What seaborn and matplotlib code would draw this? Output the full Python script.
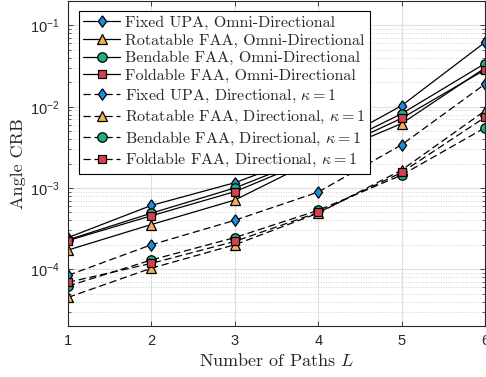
import numpy as np
import pandas as pd
import matplotlib
matplotlib.use("Agg")
import matplotlib.pyplot as plt
from matplotlib.font_manager import FontProperties
import matplotlib.ticker as mticker
import seaborn as sns

# Number of propagation paths
paths = [1, 2, 3, 4, 5, 6]

# Angle CRB, omni-directional antenna elements
fixed_omni = [2.45e-4, 6.1e-4, 1.16e-3, 2.8e-3, 1.03e-2, 6.2e-2]
rotatable_omni = [1.72e-4, 3.55e-4, 7.1e-4, 2.3e-3, 6.2e-3, 3.0e-2]
bendable_omni = [2.3e-4, 4.9e-4, 1.0e-3, 2.55e-3, 8.2e-3, 3.4e-2]
foldable_omni = [2.25e-4, 4.55e-4, 9.0e-4, 2.4e-3, 7.2e-3, 2.85e-2]

# Angle CRB, directional antenna elements (kappa = 1)
fixed_dir = [8.4e-5, 2.0e-4, 4.0e-4, 8.9e-4, 3.4e-3, 1.9e-2]
rotatable_dir = [4.5e-5, 1.03e-4, 2.0e-4, 4.9e-4, 1.66e-3, 8.9e-3]
bendable_dir = [6.2e-5, 1.3e-4, 2.45e-4, 5.3e-4, 1.44e-3, 5.5e-3]
foldable_dir = [6.9e-5, 1.18e-4, 2.2e-4, 5.0e-4, 1.55e-3, 7.4e-3]

arrays = ["Fixed UPA", "Rotatable FAA", "Bendable FAA", "Foldable FAA"]
patterns = ["Omni-Directional", r"Directional, $\kappa=1$"]
y_ticks = [1e-4, 1e-3, 1e-2, 1e-1]
y_tick_labels = [r"$\mathregular{10^{-4}}$", r"$\mathregular{10^{-3}}$",
                 r"$\mathregular{10^{-2}}$", r"$\mathregular{10^{-1}}$"]

series = {
    (patterns[0], arrays[0]): fixed_omni,
    (patterns[0], arrays[1]): rotatable_omni,
    (patterns[0], arrays[2]): bendable_omni,
    (patterns[0], arrays[3]): foldable_omni,
    (patterns[1], arrays[0]): fixed_dir,
    (patterns[1], arrays[1]): rotatable_dir,
    (patterns[1], arrays[2]): bendable_dir,
    (patterns[1], arrays[3]): foldable_dir,
}

records = []
for (pattern, array), values in series.items():
    for L, v in zip(paths, values):
        records.append({"L": L, "CRB": v, "array": array, "pattern": pattern})
df = pd.DataFrame(records)

# Marker style for each array type
tall_diamond = [(0, 1), (0.72, 0), (0, -1), (-0.72, 0), (0, 1)]
marker_of = {"Fixed UPA": (tall_diamond, 8.2),
             "Rotatable FAA": ("^", 6.8),
             "Bendable FAA": ("o", 6.8),
             "Foldable FAA": ("s", 5.4)}
face_of = {"Fixed UPA": "#1a8fe0",
           "Rotatable FAA": "#f5ad5e",
           "Bendable FAA": "#1fad86",
           "Foldable FAA": "#d8424f"}
line_of = {patterns[0]: "-", patterns[1]: (0, (5.8, 3.0))}

sns.set_style("ticks")
plt.rcParams["mathtext.fontset"] = "cm"
plt.rcParams["font.family"] = ["Liberation Sans", "DejaVu Sans"]

fig = plt.figure(figsize=(4.86, 3.77), dpi=100)
ax = fig.add_axes([68 / 486, 51 / 377, 417 / 486, 325 / 377])

handles = []
labels = []
for pattern in patterns:
    for array in arrays:
        sub = df[(df["pattern"] == pattern) & (df["array"] == array)]
        marker, ms = marker_of[array]
        sns.lineplot(data=sub, x="L", y="CRB", ax=ax, errorbar=None,
                     color="black", linewidth=0.9, linestyle=line_of[pattern],
                     marker=marker, markersize=ms,
                     markerfacecolor=face_of[array],
                     markeredgecolor="black", markeredgewidth=0.9)
        handles.append(ax.get_lines()[-1])
        labels.append(f"{array}, {pattern}")

ax.set_yscale("log")
ax.set_xlim(1, 6)
ax.set_ylim(2e-5, 2e-1)
ax.set_xticks(paths)
ax.set_yticks(y_ticks, labels=y_tick_labels)
ax.yaxis.set_minor_locator(mticker.LogLocator(base=10, subs=np.arange(2, 10)))
ax.yaxis.set_minor_formatter(mticker.NullFormatter())

ax.set_axisbelow(True)
ax.grid(True, which="major", color="#dedede", linewidth=0.8, linestyle="-")
ax.grid(True, which="minor", axis="y", color="#c4c4c4", linewidth=0.6,
        linestyle=(0, (1, 2)))

ax.tick_params(which="both", direction="in", top=True, right=True,
               colors="#262626", labelsize=10.5)
ax.tick_params(which="major", length=3.5, width=0.6, pad=6)
ax.tick_params(which="minor", length=2, width=0.5)
for spine in ax.spines.values():
    spine.set_linewidth(0.8)
    spine.set_color("#262626")

cm_font = FontProperties(family="cmr10", size=13)
ax.set_xlabel(r"Number of Paths $L$", fontproperties=cm_font, labelpad=3)
ax.set_ylabel("Angle CRB", fontproperties=cm_font, labelpad=3)

leg = ax.legend(handles, labels, loc="upper left",
                bbox_to_anchor=(0.026, 0.969), borderaxespad=0,
                prop=FontProperties(family="cmr10", size=11.5),
                frameon=True, fancybox=False, framealpha=1, edgecolor="black",
                handlelength=2.3, handletextpad=0.3, labelspacing=0.22,
                borderpad=0.28)
leg.get_frame().set_linewidth(0.8)

fig.savefig("out.png", dpi=100)
